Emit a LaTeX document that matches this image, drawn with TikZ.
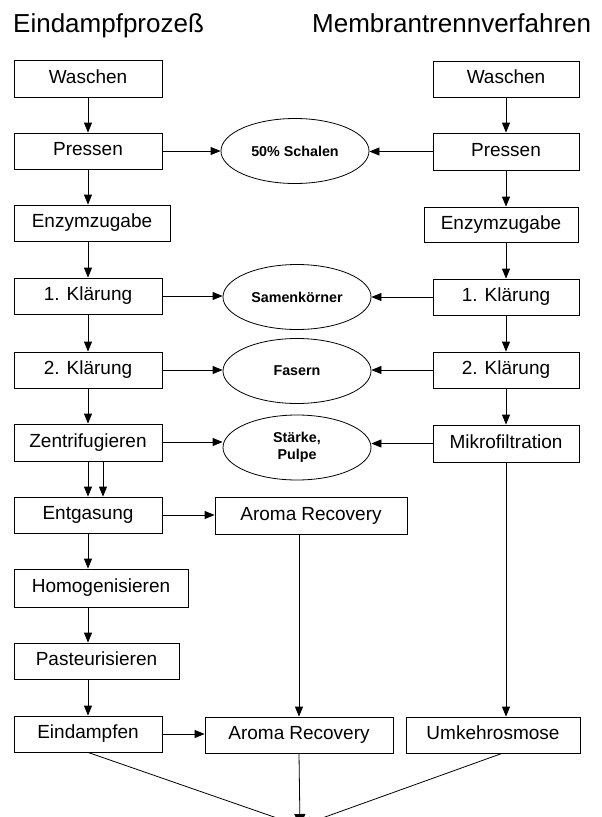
\documentclass[tikz,border=0pt]{standalone}
\usepackage{fontspec}
\setmainfont{Liberation Sans}
\usetikzlibrary{shapes.geometric,arrows.meta}
\begin{document}
\begin{tikzpicture}[x=1pt,y=-1pt,
  every node/.style={inner sep=0pt},
  stepbox/.style={draw,line width=0.8pt,minimum height=36pt,text height=13.7pt,text depth=4pt,font=\fontsize{19}{22}\selectfont},
  waste/.style={draw,ellipse,line width=0.8pt,minimum width=148pt,minimum height=65pt,align=center,font=\fontsize{14.3}{17.5}\bfseries},
  titletext/.style={anchor=base west,font=\fontsize{26}{30}\selectfont},
  conn/.style={line width=0.8pt,-{Triangle[length=10pt,width=8pt]}},
  sinkconn/.style={line width=0.8pt,-{Triangle[length=12pt,width=11pt]}}]
\useasboundingbox (0,0) rectangle (602,817);
\fill[white] (0,0) rectangle (602,817);
% titles
\node[titletext] (t1) at (13,32) {Eindampfproze\ss};
\node[titletext] (t2) at (312,32) {Membrantrennverfahren};
% left column
\node[stepbox,minimum width=148pt,minimum height=37pt] (lw) at (88,78.5) {Waschen};
\node[stepbox,minimum width=148pt] (lp) at (88,151) {Pressen};
\node[stepbox,minimum width=156pt] (le) at (92,223) {Enzymzugabe};
\node[stepbox,minimum width=148pt] (lk1) at (88,296) {1. Kl\"arung};
\node[stepbox,minimum width=148pt] (lk2) at (88,370) {2. Kl\"arung};
\node[stepbox,minimum width=148pt,minimum height=37pt] (lz) at (88,442.5) {Zentrifugieren};
\node[stepbox,minimum width=148pt] (lg) at (88,515) {Entgasung};
\node[stepbox,minimum width=174pt,minimum height=38pt] (lh) at (101,588) {Homogenisieren};
\node[stepbox,minimum width=165pt] (lpa) at (96.5,661) {Pasteurisieren};
\node[stepbox,minimum width=148pt] (ld) at (88,734) {Eindampfen};
% middle
\node[stepbox,minimum width=192pt,minimum height=37pt] (ar1) at (311,515.5) {Aroma\hspace{5pt}Recovery};
\node[stepbox,minimum width=188pt] (ar2) at (299,735) {Aroma\hspace{5pt}Recovery};
\node[stepbox,minimum width=174pt] (umk) at (493,735) {Umkehrosmose};
% right column
\node[stepbox,minimum width=146pt] (rw) at (506,79) {Waschen};
\node[stepbox,minimum width=146pt,minimum height=37pt] (rp) at (506,151.5) {Pressen};
\node[stepbox,minimum width=154pt,minimum height=35pt] (re) at (501,224.5) {Enzymzugabe};
\node[stepbox,minimum width=146pt] (rk1) at (506,297) {1. Kl\"arung};
\node[stepbox,minimum width=146pt] (rk2) at (506,370) {2. Kl\"arung};
\node[stepbox,minimum width=146pt,minimum height=37pt] (rm) at (506,443.5) {Mikrofiltration};
% ellipses
\node[waste] (e1) at (295,151) {50\% Schalen};
\node[waste] (e2) at (297,297) {Samenk\"orner};
\node[waste] (e3) at (297,371) {Fasern};
\node[waste] (e4) at (297,447.5) {St\"arke,\\Pulpe};
% convergence point
\coordinate (sink) at (300,826);
% left vertical arrows
\draw[conn] (lw) -- (lp);
\draw[conn] (lp) -- (lp.south |- le.north);
\draw[conn] (lp.south |- le.south) -- (lk1);
\draw[conn] (lk1) -- (lk2);
\draw[conn] (lk2) -- (lz);
\draw[conn] (lz) -- (lg);
\draw[conn] ([xshift=15pt]lz.south) -- ([xshift=15pt]lg.north);
\draw[conn] (lg.south) -- (lg.south |- lh.north);
\draw[conn] (lg.south |- lh.south) -- (lg.south |- lpa.north);
\draw[conn] (lg.south |- lpa.south) -- (ld.north);
% right vertical arrows
\draw[conn] (rw) -- (rp);
\draw[conn] (rp.south) -- (rp.south |- re.north);
\draw[conn] (rp.south |- re.south) -- (rk1.north);
\draw[conn] (rk1) -- (rk2);
\draw[conn] (rk2) -- (rm);
\draw[conn] (rm.south) -- (rm.south |- umk.north);
% horizontal arrows to ellipses
\draw[conn] (lp.east) -- (lp.east -| e1.west);
\draw[conn] (rp.west) -- (rp.west -| e1.east);
\draw[conn] (lk1.east) -- (lk1.east -| e2.west);
\draw[conn] (rk1.west) -- (rk1.west -| e2.east);
\draw[conn] (lk2.east) -- (lk2.east -| e3.west);
\draw[conn] (rk2.west) -- (rk2.west -| e3.east);
\draw[conn] ([yshift=0.5pt]lz.east) -- ([yshift=0.5pt]lz.east -| e4.west);
\draw[conn] (rm.west) -- (rm.west -| e4.east);
% aroma
\draw[conn] (lg.east) -- (lg.east -| ar1.west);
\draw[conn] (ar1.south -| ar2.north) -- (ar2.north);
\draw[conn] (ld.east) -- (ld.east -| ar2.west);
% to sink
\draw[sinkconn] (ld.south) -- (sink);
\draw[sinkconn] (ar2.south) -- (sink);
\draw[sinkconn] ([xshift=9pt]umk.south) -- (sink);
\end{tikzpicture}
\end{document}
